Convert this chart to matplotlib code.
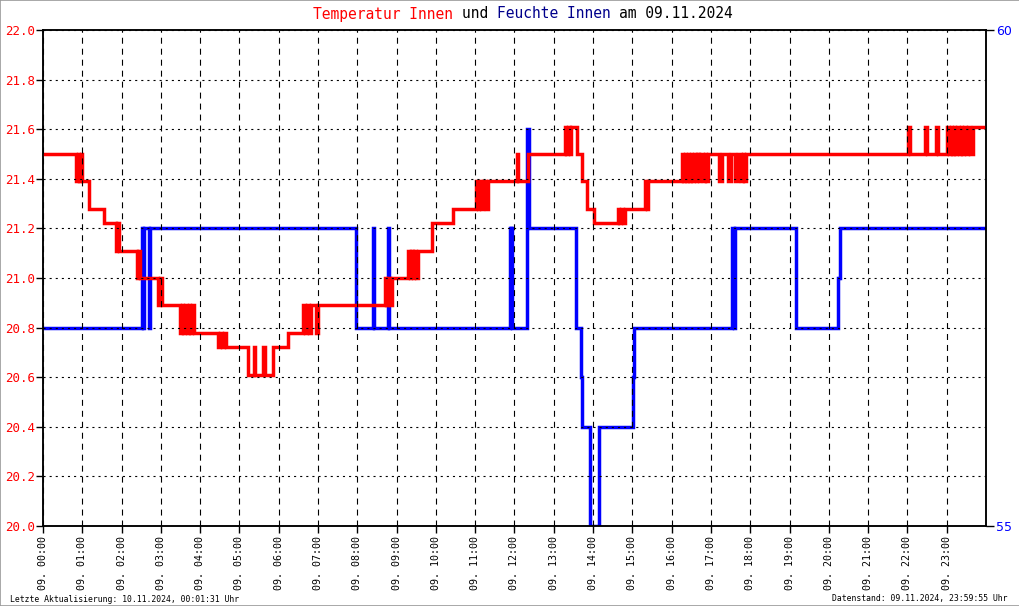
"""Temperatur / Feuchte Innen Tagesverlauf 09.11.2024."""

import matplotlib

matplotlib.use("Agg", force=True)
import matplotlib.pyplot as plt
from matplotlib.patches import Rectangle

plt.rcParams["lines.scale_dashes"] = False

# Temperatur innen (Stunde, Grad C), Stufenverlauf
temp_hours = [
    0.00, 0.84, 0.88, 0.92, 0.96, 1.00, 1.17, 1.55, 1.86, 1.89, 1.93,
    2.39, 2.43, 2.46, 2.93, 2.97, 3.03,
    3.49, 3.53, 3.57, 3.62, 3.66, 3.71, 3.75, 3.79, 3.84,
    4.45, 4.50, 4.55, 4.60, 4.66,
    5.22, 5.36, 5.40, 5.60, 5.64, 5.85, 6.24,
    6.62, 6.67, 6.72, 6.77, 6.82, 6.95, 6.99,
    8.70, 8.74, 8.78, 8.82, 8.88,
    9.29, 9.33, 9.37, 9.41, 9.45, 9.50, 9.54, 9.90, 10.44,
    11.02, 11.06, 11.10, 11.16, 11.20, 11.28, 11.33,
    12.06, 12.10, 12.34, 13.29, 13.32, 13.35, 13.40, 13.44, 13.59,
    13.72, 13.85, 14.02, 14.63, 14.67, 14.71, 14.75, 14.80,
    15.33, 15.37, 15.40,
    16.26, 16.30, 16.33, 16.37, 16.41, 16.45, 16.49, 16.53, 16.57, 16.61, 16.65, 16.69, 16.72,
    16.80, 16.84, 16.88, 16.93, 17.21, 17.27, 17.44, 17.50, 17.62, 17.68,
    17.77, 17.82, 17.85, 17.89,
    22.02, 22.06, 22.45, 22.50, 22.73, 22.78, 23.01, 23.07,
    23.10, 23.14, 23.18, 23.22, 23.27, 23.31, 23.36, 23.40, 23.45, 23.50,
    23.55, 23.60, 23.66, 23.72, 24.00,
]
temp_values = [
    21.50, 21.39, 21.50, 21.39, 21.50, 21.39, 21.28, 21.22, 21.11, 21.22, 21.11,
    21.00, 21.11, 21.00, 20.89, 21.00, 20.89,
    20.78, 20.89, 20.78, 20.89, 20.78, 20.89, 20.78, 20.89, 20.78,
    20.72, 20.78, 20.72, 20.78, 20.72,
    20.61, 20.72, 20.61, 20.72, 20.61, 20.72, 20.78,
    20.89, 20.78, 20.89, 20.78, 20.89, 20.78, 20.89,
    21.00, 20.89, 21.00, 20.89, 21.00,
    21.11, 21.00, 21.11, 21.00, 21.11, 21.00, 21.11, 21.22, 21.28,
    21.39, 21.28, 21.39, 21.28, 21.39, 21.28, 21.39,
    21.50, 21.39, 21.50, 21.61, 21.50, 21.61, 21.50, 21.61, 21.50,
    21.39, 21.28, 21.22, 21.28, 21.22, 21.28, 21.22, 21.28,
    21.39, 21.28, 21.39,
    21.50, 21.39, 21.50, 21.39, 21.50, 21.39, 21.50, 21.39, 21.50, 21.39, 21.50, 21.39, 21.50,
    21.39, 21.50, 21.39, 21.50, 21.39, 21.50, 21.39, 21.50, 21.39, 21.50,
    21.39, 21.50, 21.39, 21.50,
    21.61, 21.50, 21.61, 21.50, 21.61, 21.50, 21.61, 21.50,
    21.61, 21.50, 21.61, 21.50, 21.61, 21.50, 21.61, 21.50, 21.61, 21.50,
    21.61, 21.50, 21.61, 21.61, 21.61,
]

# Feuchte innen (Stunde, % rF)
hum_hours = [
    0.00, 2.52, 2.55, 2.58, 2.70, 2.73, 7.97, 8.40, 8.43, 8.78, 8.80,
    11.88, 11.90, 11.92, 11.94, 12.32, 12.36, 13.57, 13.68, 13.72, 13.92,
    14.14, 14.16, 15.02, 15.05, 17.54, 17.58, 17.62, 19.16, 20.24, 20.28, 24.00,
]
hum_values = [
    57, 58, 57, 58, 57, 58, 57, 58, 57, 58, 57,
    58, 57, 58, 57, 59, 58, 57, 56.5, 56, 55,
    55.5, 56, 56.5, 57, 58, 57, 58, 57, 57.5, 58, 58,
]

hour_ticks = list(range(24))
hour_labels = [f"09. {h:02d}:00" for h in hour_ticks]
temp_ticks = [20.0, 20.2, 20.4, 20.6, 20.8, 21.0, 21.2, 21.4, 21.6, 21.8, 22.0]
hum_ticks = [55, 60]

MONO = "DejaVu Sans Mono"
RED = "#ff0000"
BLUE = "#0000ff"
NAVY = "#00008b"

fig = plt.figure(figsize=(10.2, 6.06), dpi=100)
fig.patch.set_facecolor("white")
W, H = 1020.0, 606.0

ax = fig.add_axes([43 / W, 80 / H, 943 / W, 496 / H])
ax2 = ax.twinx()
ax.set_zorder(2)
ax2.set_zorder(1)
ax.patch.set_visible(False)

ax2.plot(hum_hours, hum_values, drawstyle="steps-post", color=BLUE, lw=2.5,
         solid_joinstyle="miter", solid_capstyle="butt")
ax.plot(temp_hours, temp_values, drawstyle="steps-post", color=RED, lw=2.5,
        solid_joinstyle="miter", solid_capstyle="butt")

ax.set_xlim(0, 24)
ax.set_ylim(20.0, 22.0)
ax2.set_ylim(55, 60)

ax.set_xticks(hour_ticks)
ax.set_xticklabels(hour_labels, rotation=90, fontsize=7.2, family=MONO)
ax.set_yticks(temp_ticks)
ax.set_yticklabels([f"{v:.1f}" for v in temp_ticks], fontsize=9, family=MONO, color=RED)
ax2.set_yticks(hum_ticks)
ax2.set_yticklabels([str(v) for v in hum_ticks], fontsize=9, color=BLUE)

ax.tick_params(axis="x", direction="out", length=5, width=1, pad=2)
ax.tick_params(axis="y", direction="out", length=5, width=1, pad=1)
ax2.tick_params(axis="y", direction="out", length=6, width=1, pad=1)

ax.set_axisbelow(False)
ax.xaxis.grid(True, color="black", lw=0.8, linestyle=(0, (4.3, 3.6)))
ax.yaxis.grid(True, color="black", lw=0.8, linestyle=(0, (1.5, 2.9)))

for spine in list(ax.spines.values()) + list(ax2.spines.values()):
    spine.set_linewidth(1.1)
    spine.set_color("black")

# Titel aus farbigen Teilen zusammensetzen
renderer = fig.canvas.get_renderer()
parts = [
    ("Temperatur Innen ", RED),
    ("und ", "black"),
    ("Feuchte Innen ", NAVY),
    ("am 09.11.2024", "black"),
]
x_px = 313.0
for text, color in parts:
    t = fig.text(x_px / W, 1 - 14 / H, text, color=color, fontsize=10.5,
                 family=MONO, ha="left", va="center")
    x_px += t.get_window_extent(renderer).width

fig.text(10 / W, 1 - 599 / H, "Letzte Aktualisierung: 10.11.2024, 00:01:31 Uhr",
         fontsize=5.9, family=MONO, ha="left", va="center")
fig.text(1008 / W, 1 - 599 / H, "Datenstand: 09.11.2024, 23:59:55 Uhr",
         fontsize=5.9, family=MONO, ha="right", va="center")

fig.patches.append(Rectangle((0, 0), 1, 1, transform=fig.transFigure, fill=False,
                             edgecolor="#999999", lw=1.2))

fig.savefig("out.png", dpi=100)
plt.close(fig)
